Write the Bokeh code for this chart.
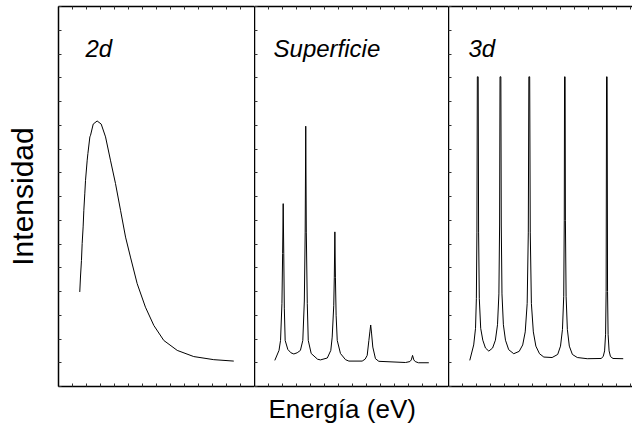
from bokeh.plotting import figure
from bokeh.models import Range1d, LinearAxis, FixedTicker, Label, Title
from bokeh.layouts import row
from bokeh.embed import file_html
from bokeh.resources import INLINE

# ---------------- data ----------------
panel_labels = ["2d", "Superficie", "3d"]
y_label = "Intensidad"
x_label = "Energía (eV)"

x_2d = [1.52, 1.57, 1.64, 1.69, 1.76, 1.81, 1.88, 1.93, 2.05, 2.10, 2.24, 2.29,
        2.48, 2.76, 3.05, 3.36, 3.71, 4.07, 4.43, 4.79, 5.14, 5.62, 6.21, 6.81,
        7.52, 8.48, 9.66, 11.09, 12.52]
y_2d = [3.98, 4.61, 5.31, 6.02, 6.72, 7.42, 8.14, 8.68, 9.53, 9.81, 10.51, 10.58,
        11.05, 11.18, 11.05, 10.51, 9.53, 8.55, 7.42, 6.29, 5.45, 4.33, 3.34, 2.57,
        1.94, 1.52, 1.26, 1.13, 1.07]

x_sup = [1.45, 1.75, 1.86, 1.96, 2.01, 2.05, 2.09, 2.13, 2.19, 2.38, 2.60, 2.81,
         3.05, 3.28, 3.45, 3.56, 3.62, 3.66, 3.70, 3.77, 3.84, 4.05, 4.50, 4.71,
         5.20, 5.45, 5.55, 5.66, 5.70, 5.74, 5.78, 5.83, 5.91, 6.14, 6.50, 6.74,
         7.69, 7.90, 8.05, 8.17, 8.24, 8.30, 8.36, 8.45, 8.64, 8.88,
         10.79, 11.10, 11.20, 11.29, 11.38, 11.48, 11.71, 12.45]
y_sup = [1.10, 1.52, 1.94, 3.50, 5.60, 7.70, 5.60, 3.30, 1.94, 1.56, 1.42, 1.37,
         1.42, 1.52, 1.94, 3.60, 6.50, 10.96, 6.50, 3.50, 1.94, 1.39, 1.15, 1.12,
         1.20, 1.52, 2.08, 3.40, 4.60, 6.51, 4.60, 3.00, 1.94, 1.39, 1.13, 1.07,
         1.07, 1.15, 1.31, 1.94, 2.30, 2.59, 2.25, 1.66, 1.17, 1.06,
         1.01, 1.05, 1.12, 1.31, 1.12, 1.05, 1.00, 1.00]

x_3d = [1.52, 1.80, 1.93, 1.99, 2.03, 2.06, 2.12, 2.15, 2.20, 2.30, 2.45, 2.64, 2.88,
        3.15, 3.35, 3.50, 3.60, 3.65, 3.68, 3.74, 3.77, 3.82, 3.92, 4.07, 4.30, 4.66,
        5.05, 5.30, 5.48, 5.62, 5.70, 5.74, 5.80, 5.84, 5.92, 6.06, 6.24, 6.50, 6.81, 7.40,
        7.80, 8.00, 8.14, 8.23, 8.27, 8.29, 8.33, 8.35, 8.40, 8.49, 8.63, 8.85, 9.20, 9.91,
        10.90, 11.05, 11.15, 11.22, 11.26, 11.29, 11.33, 11.36, 11.40, 11.47, 11.57, 11.75, 12.48]
y_3d = [1.10, 1.75, 2.45, 3.70, 6.50, 13.04, 13.04, 6.50, 3.70, 2.45, 1.95, 1.62, 1.49,
        1.62, 1.95, 2.60, 3.90, 6.80, 13.04, 13.04, 6.80, 3.90, 2.60, 1.95, 1.55, 1.38,
        1.48, 1.75, 2.30, 3.50, 6.50, 13.04, 13.04, 6.50, 3.50, 2.30, 1.70, 1.38, 1.24, 1.22,
        1.35, 1.70, 2.40, 3.80, 7.00, 13.04, 13.04, 7.00, 3.80, 2.40, 1.70, 1.35, 1.22, 1.17,
        1.18, 1.26, 1.50, 2.20, 4.00, 13.04, 13.04, 4.00, 2.20, 1.50, 1.26, 1.18, 1.17]

y_max = 16
label_pos_x = [1.93, 1.36, 1.43]
label_pos_y = 14.23

# ---------------- layout ----------------
FONT = "Liberation Sans"
H = 436
PX_PER_UNIT = 14


def make_fig(width, left_border):
    xmax = (width - left_border) / PX_PER_UNIT
    p = figure(width=width, height=H,
               x_range=Range1d(0, xmax), y_range=Range1d(0, y_max),
               output_backend="svg", toolbar_location=None, tools="",
               min_border_left=left_border, min_border_right=0,
               min_border_top=6, min_border_bottom=50,
               outline_line_color=None,
               background_fill_color="white", border_fill_color="white")
    p.add_layout(LinearAxis(), "above")
    p.xgrid.visible = False
    p.ygrid.visible = False
    for ax in p.xaxis:
        ax.ticker = FixedTicker(ticks=[], minor_ticks=list(range(0, int(xmax) + 1)))
    for ax in p.yaxis:
        ax.ticker = FixedTicker(ticks=[], minor_ticks=list(range(0, y_max + 1)))
    for ax in p.axis:
        ax.axis_line_color = "black"
        ax.axis_line_width = 1.5
        ax.major_tick_in = 0
        ax.major_tick_out = 0
        ax.minor_tick_in = 3
        ax.minor_tick_out = 0
        ax.minor_tick_line_color = "#333333"
        ax.minor_tick_line_width = 1
        ax.major_label_text_font_size = "0px"
        ax.major_label_standoff = 0
    return p


p1 = make_fig(254, 58)
p2 = make_fig(194, 0)
p3 = make_fig(184, 0)

p1.yaxis.axis_label = y_label
p1.yaxis.axis_label_text_font = FONT
p1.yaxis.axis_label_text_font_size = "30px"
p1.yaxis.axis_label_text_font_style = "normal"
p1.yaxis.axis_label_text_color = "black"
p1.yaxis.axis_label_standoff = 20

p1.line(x_2d, y_2d, line_color="black", line_width=1)
p2.line(x_sup, y_sup, line_color="black", line_width=1)
p3.line(x_3d, y_3d, line_color="black", line_width=1)

for p, txt, lx in zip([p1, p2, p3], panel_labels, label_pos_x):
    p.add_layout(Label(x=lx, y=label_pos_y, text=txt, text_font=FONT,
                       text_font_size="24px", text_font_style="italic",
                       text_color="black", text_baseline="alphabetic"))

p2.add_layout(Title(text=x_label, align="left", offset=14, standoff=10,
                    text_font=FONT, text_font_size="26px",
                    text_font_style="normal", text_color="black"), "below")

layout = row(p1, p2, p3)
open("out.html", "w").write(file_html(layout, INLINE))
